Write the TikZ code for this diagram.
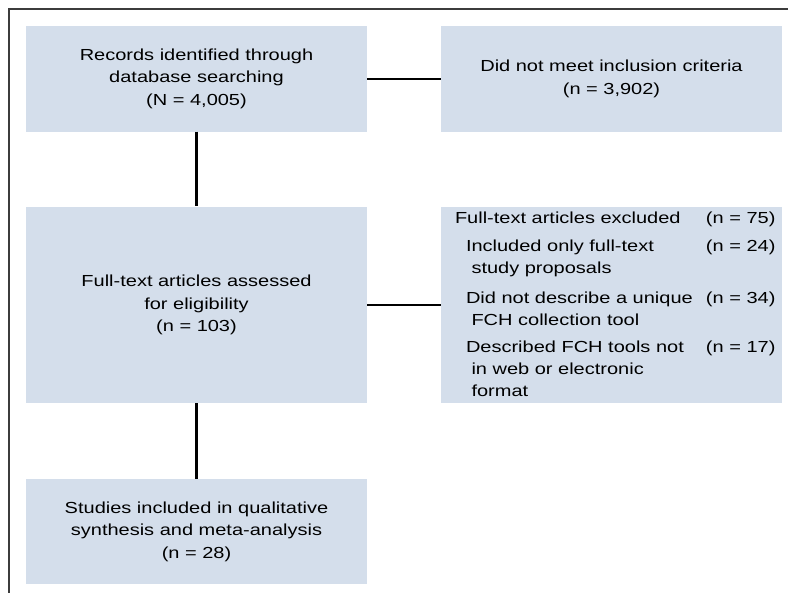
\documentclass[tikz,border=0pt]{standalone}
\usepackage{fontspec}
\setmainfont{Liberation Sans}[FakeStretch=1.25]
\usepackage{array}
\definecolor{boxfill}{RGB}{212,222,235}
\definecolor{framegray}{RGB}{60,60,60}
\begin{document}
\begin{tikzpicture}[x=1pt,y=-1pt,
  flowbox/.style={draw=none, fill=boxfill, minimum width=341pt, inner sep=0pt,
    align=center, font=\fontsize{16}{22.5}\selectfont},
  link/.style={line width=2.3pt, black},
  frameline/.style={line width=2pt, framegray}]
\useasboundingbox (0,0) rectangle (788,593);
\draw[frameline] (9.3,593) -- (9.3,9.3) -- (788,9.3);
\node[flowbox, minimum height=105.5pt] (rec) at (196.5,78.8)
  {Records identified through\\database searching\\(N = 4,005)};
\node[flowbox, minimum height=105.5pt] (dnm) at (611.5,78.8)
  {Did not meet inclusion criteria\\(n = 3,902)};
\node[flowbox, minimum height=196.6pt] (ft) at (196.5,305)
  {Full-text articles assessed\\for eligibility\\(n = 103)};
\node[flowbox, minimum height=196.6pt] (excl) at (611.5,305) {};
\node[anchor=west, inner sep=0pt, font=\fontsize{16}{22}\selectfont] (excltxt) at ([xshift=14pt,yshift=-1pt]excl.west)
  {\renewcommand\arraystretch{1}%
   \begin{tabular}{@{}p{251pt}@{}l@{}}
   Full-text articles excluded & (n = 75)\\[6pt]
   \hspace*{11pt}Included only full-text & (n = 24)\\
   \hspace*{16.5pt}study proposals & \\[8pt]
   \hspace*{11pt}Did not describe a unique & (n = 34)\\
   \hspace*{16.5pt}FCH collection tool & \\[5pt]
   \hspace*{11pt}Described FCH tools not & (n = 17)\\
   \hspace*{16.5pt}in web or electronic & \\
   \hspace*{16.5pt}format &
   \end{tabular}};
\node[flowbox, minimum height=105.3pt] (stud) at (196.5,531.7)
  {Studies included in qualitative\\synthesis and meta-analysis\\(n = 28)};
\draw[link] (rec.east) -- (dnm.west);
\draw[link] (rec.south) -- (ft.north);
\draw[link] (ft.east) -- (excl.west);
\draw[link] (ft.south) -- (stud.north);
\end{tikzpicture}
\end{document}
